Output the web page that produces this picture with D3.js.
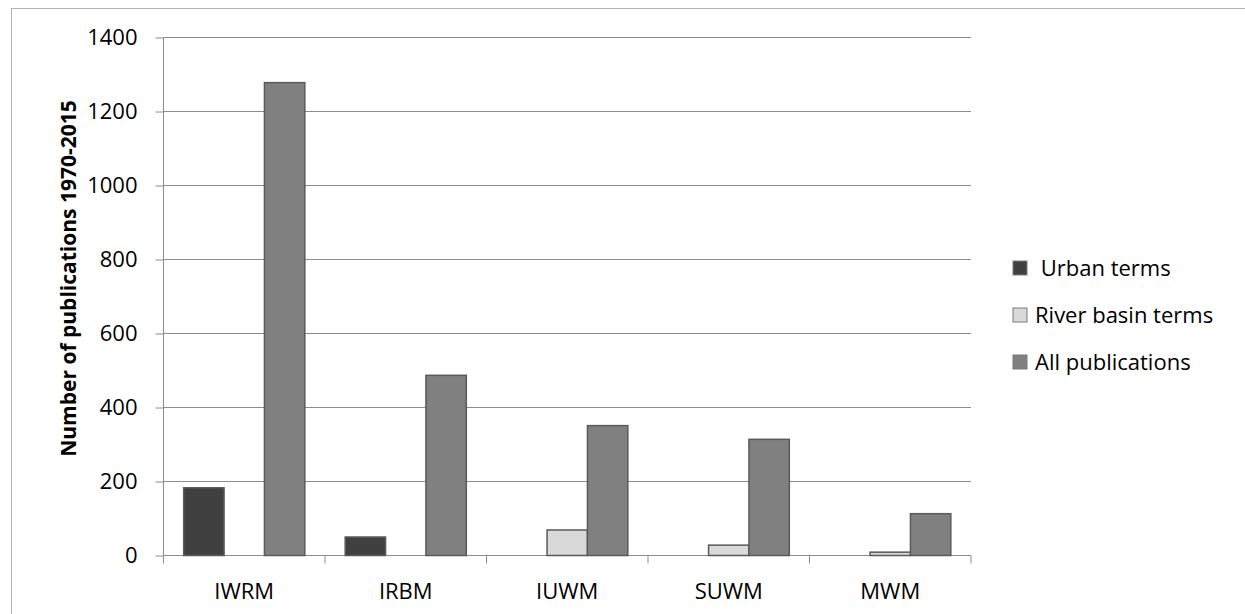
<!DOCTYPE html>
<html>
<head>
<meta charset="utf-8">
<script src="https://cdn.jsdelivr.net/npm/d3@7"></script>
<style>
html,body{margin:0;padding:0;background:#fff;}
svg{display:block;}
text{font-family:"Open Sans","Liberation Sans",sans-serif;fill:#000;}
</style>
</head>
<body>
<svg id="chart" width="1245" height="614"></svg>
<script>
const categories = ["IWRM", "IRBM", "IUWM", "SUWM", "MWM"];
const seriesNames = [" Urban terms", "River basin terms", "All publications"];
const urbanTerms = [183, 50, 0, 0, 0];
const riverBasinTerms = [0, 0, 69, 28, 9];
const allPublications = [1278, 487, 351, 314, 113];
const yTicks = [0, 200, 400, 600, 800, 1000, 1200, 1400];
const seriesColors = ["#404040", "#d9d9d9", "#808080"];

const seriesValues = [urbanTerms, riverBasinTerms, allPublications];

const svg = d3.select("#chart");
const W = 1245, H = 614;
const plot = {left: 163.5, right: 971, top: 37.5, bottom: 555.5};

// outer chart border
svg.append("rect").attr("x", 11.5).attr("y", 8.5).attr("width", W + 10).attr("height", H + 10)
  .attr("fill", "none").attr("stroke", "#b3b3b3").attr("stroke-width", 1);

const y = d3.scaleLinear().domain([0, 1400]).range([plot.bottom, plot.top]);
const x0 = d3.scaleBand().domain(categories).range([plot.left, plot.right]).paddingInner(0).paddingOuter(0);
const x1 = d3.scaleBand().domain(d3.range(seriesNames.length)).range([0, x0.bandwidth()]).paddingInner(0).paddingOuter(0.5);

// gridlines
const g = svg.append("g");
g.selectAll("line.grid").data(yTicks.filter(d => d > 0)).enter().append("line")
  .attr("x1", plot.left).attr("x2", plot.right)
  .attr("y1", d => y(d)).attr("y2", d => y(d))
  .attr("stroke", "#8c8c8c").attr("stroke-width", 1);

// y axis
const yAxis = d3.axisLeft(y).tickValues(yTicks).tickSize(8).tickPadding(18).tickFormat(d3.format("d"));
const ya = svg.append("g").attr("transform", `translate(${plot.left},0)`).call(yAxis);
ya.attr("font-size", 22).attr("font-family", "'Open Sans',sans-serif");
ya.select(".domain").attr("stroke", "#8c8c8c").attr("d", `M0,${plot.top}V${plot.bottom}`);
ya.selectAll(".tick line").attr("stroke", "#8c8c8c");
ya.selectAll(".tick text").attr("font-size", 22).attr("fill", "#000");

// x axis
const boundaries = categories.map(c => x0(c)).concat([plot.right]);
const xa = svg.append("g");
xa.append("line").attr("x1", plot.left).attr("x2", plot.right).attr("y1", plot.bottom).attr("y2", plot.bottom)
  .attr("stroke", "#8c8c8c");
xa.selectAll("line.tk").data(boundaries).enter().append("line")
  .attr("x1", d => d).attr("x2", d => d).attr("y1", plot.bottom).attr("y2", plot.bottom + 8)
  .attr("stroke", "#8c8c8c");
xa.selectAll("text").data(categories).enter().append("text")
  .attr("x", d => x0(d) + x0.bandwidth() / 2).attr("y", 599)
  .attr("text-anchor", "middle").attr("font-size", 22).text(d => d);

// bars
const groups = svg.append("g").selectAll("g").data(categories).enter().append("g")
  .attr("transform", d => `translate(${x0(d)},0)`);
groups.selectAll("rect").data((c, i) => seriesValues.map((s, k) => ({k, v: s[i]})).filter(d => d.v > 0))
  .enter().append("rect")
  .attr("x", d => x1(d.k)).attr("width", x1.bandwidth())
  .attr("y", d => y(d.v)).attr("height", d => y(0) - y(d.v))
  .attr("fill", d => seriesColors[d.k]).attr("stroke", "#5a5a5a").attr("stroke-width", 1.5);

// y axis title
svg.append("text").attr("transform", `translate(76,278.5) rotate(-90)`)
  .attr("text-anchor", "middle").attr("font-size", 21).attr("font-weight", "bold")
  .text("Number of publications 1970-2015");

// legend
const lg = svg.append("g");
const legendY = [268, 315, 362];
seriesNames.forEach((n, i) => {
  lg.append("rect").attr("x", 1013).attr("y", legendY[i] - 7).attr("width", 14).attr("height", 14)
    .attr("fill", seriesColors[i]).attr("stroke", "#7a7a7a").attr("stroke-width", 1);
  lg.append("text").attr("x", 1035).attr("y", legendY[i] + 8).attr("font-size", 22)
    .attr("xml:space", "preserve").style("white-space", "pre").text(n);
});
</script>
</body>
</html>
